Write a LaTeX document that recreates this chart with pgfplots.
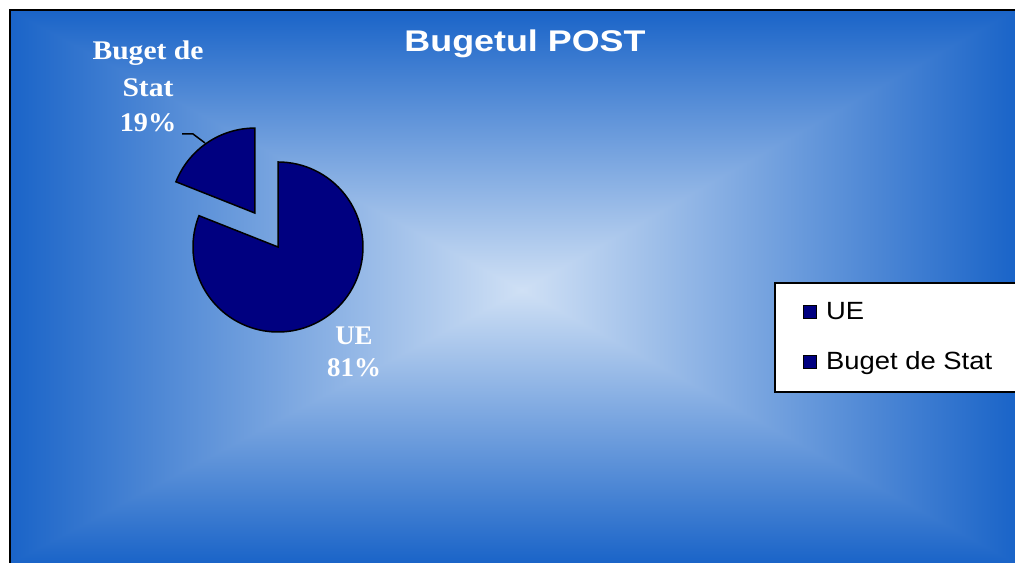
\documentclass[border=0pt]{standalone}
\usepackage{pgfplots}
\pgfplotsset{compat=1.18}
\usepackage{graphicx}
\usepackage{fontspec}
\setmainfont{Liberation Sans}
\newfontfamily\timesfont{Liberation Serif}
\definecolor{edge}{HTML}{1A64C8}
\definecolor{mid}{HTML}{7FA2E0}
\definecolor{cen}{HTML}{CFE0F5}
\definecolor{piecol}{HTML}{000080}
% data
\def\valUE{81}
\def\valBS{19}
\begin{document}
\begin{tikzpicture}[x=1bp,y=1bp]
\path[use as bounding box] (0,0) rectangle (1015,563);
\clip (0,0) rectangle (1015,563);
\fill[white] (0,0) rectangle (1015,563);
\def\cx{522}\def\cy{273}
% rectangular gradient background
\shade[top color=edge, middle color=mid, bottom color=cen] (10,\cy) rectangle (1015,553);
\shade[top color=cen, middle color=mid, bottom color=edge] (10,0) rectangle (1015,\cy);
\shade[left color=edge, middle color=mid, right color=cen] (10,553)--(10,0)--(\cx,\cy)--cycle;
\shade[left color=cen, middle color=mid, right color=edge] (1015,553)--(1015,0)--(\cx,\cy)--cycle;
\draw[black, line width=2bp] (10,0)--(10,553)--(1015,553);
\begin{axis}[at={(0,0)}, anchor=south west, width=1015bp, height=563bp, scale only axis,
  xmin=0, xmax=1015, ymin=0, ymax=563, hide axis, clip=false]
\pgfmathsetmacro\angB{90+\valBS/(\valUE+\valBS)*360}
\pgfmathsetmacro\bis{(90+\angB)/2}
% UE slice
\filldraw[fill=piecol, draw=black, line width=1.5bp] (axis cs:278,316) -- ++(\angB:85bp) arc[start angle=\angB, end angle=450, radius=85bp] -- cycle;
% Buget de Stat slice, exploded
\filldraw[fill=piecol, draw=black, line width=1.5bp] (axis cs:278,316) ++(\bis:41bp) -- ++(90:85bp) arc[start angle=90, end angle=\angB, radius=85bp] -- cycle;
\draw[black, line width=1.5bp] (axis cs:182,429) -- (axis cs:193,429) -- (axis cs:205,420);
\end{axis}
% title
\node[anchor=base, text=white, font=\fontsize{30}{32}\selectfont\bfseries] at (525,511) {\scalebox{1.2}[1]{Bugetul POST}};
% data labels
\begin{scope}[every node/.style={anchor=base, text=white, font=\timesfont\bfseries\fontsize{27}{30}\selectfont}]
\node at (148,503) {\scalebox{1.1}[1]{Buget de}};
\node at (148,466) {\scalebox{1.1}[1]{Stat}};
\node at (148,431) {\scalebox{1.05}[1]{19\%}};
\node at (354,218) {UE};
\node at (354,186) {81\%};
\end{scope}
% legend
\filldraw[fill=white, draw=black, line width=1.5bp] (775,171) rectangle (1022,280);
\filldraw[fill=piecol, draw=black, line width=0.8bp] (803,245) rectangle (816,258);
\filldraw[fill=piecol, draw=black, line width=0.8bp] (803,195) rectangle (816,208);
\node[anchor=base west, inner sep=0, font=\fontsize{25}{28}\selectfont] at (826,243) {\scalebox{1.1}[1]{UE}};
\node[anchor=base west, inner sep=0, font=\fontsize{25}{28}\selectfont] at (826,193) {\scalebox{1.1}[1]{Buget de Stat}};
\end{tikzpicture}
\end{document}
